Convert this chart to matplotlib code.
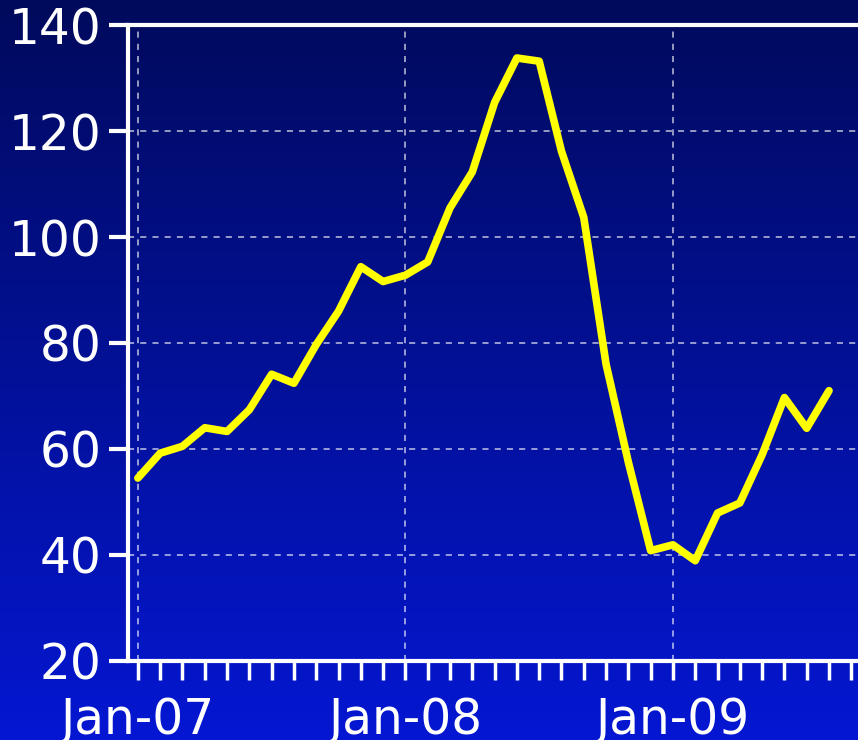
import matplotlib.pyplot as plt
import numpy as np
from matplotlib.colors import LinearSegmentedColormap

# monthly values, Jan-07 .. Aug-09
values = [54.5, 59.2, 60.5, 64.0, 63.3, 67.4, 74.1, 72.4, 79.7, 86.0, 94.4, 91.6,
          92.8, 95.3, 105.5, 112.3, 125.4, 133.8, 133.2, 116.2, 103.7, 76.0, 57.5, 40.8,
          41.9, 38.9, 47.9, 49.8, 58.9, 69.7, 63.9, 71.0]
tick_labels = ['Jan-07', 'Jan-08', 'Jan-09']
y_ticks = [20, 40, 60, 80, 100, 120, 140]

months = np.arange(len(values))

fig = plt.figure(figsize=(8.58, 7.4), dpi=100)

# gradient background over the whole figure
bg = fig.add_axes([0, 0, 1, 1], zorder=0)
cmap = LinearSegmentedColormap.from_list('bg', ['#000a5c', '#0517d2'])
bg.imshow(np.linspace(0, 1, 256).reshape(-1, 1), aspect='auto', cmap=cmap,
          extent=[0, 1, 0, 1], origin='upper')
bg.axis('off')

ax = fig.add_axes([0.149, 0.107, 0.851, 0.859], zorder=1)
ax.set_facecolor('none')

ax.plot(months, values, color='#ffff00', linewidth=5.5, solid_joinstyle='round',
        solid_capstyle='round', zorder=3)

ax.set_xlim(-0.45, 32.3)
ax.set_ylim(20, 140)
ax.set_yticks(y_ticks)
ax.set_xticks([0, 12, 24])
ax.set_xticklabels(tick_labels)
ax.set_xticks(np.arange(0, 33), minor=True)

ax.grid(True, which='major', color='white', linestyle=(0, (4, 4)), linewidth=1.1, alpha=0.75)

for side in ['left', 'bottom', 'top']:
    ax.spines[side].set_color('white')
    ax.spines[side].set_linewidth(3)
ax.spines['right'].set_visible(False)

ax.tick_params(axis='y', colors='white', labelsize=35, length=14, width=3, pad=5)
ax.tick_params(axis='x', which='both', colors='white', labelsize=35, length=14,
               width=2.5, pad=11)
ax.tick_params(axis='y', which='minor', left=False)

fig.savefig('out.png', dpi=100)
plt.close(fig)
